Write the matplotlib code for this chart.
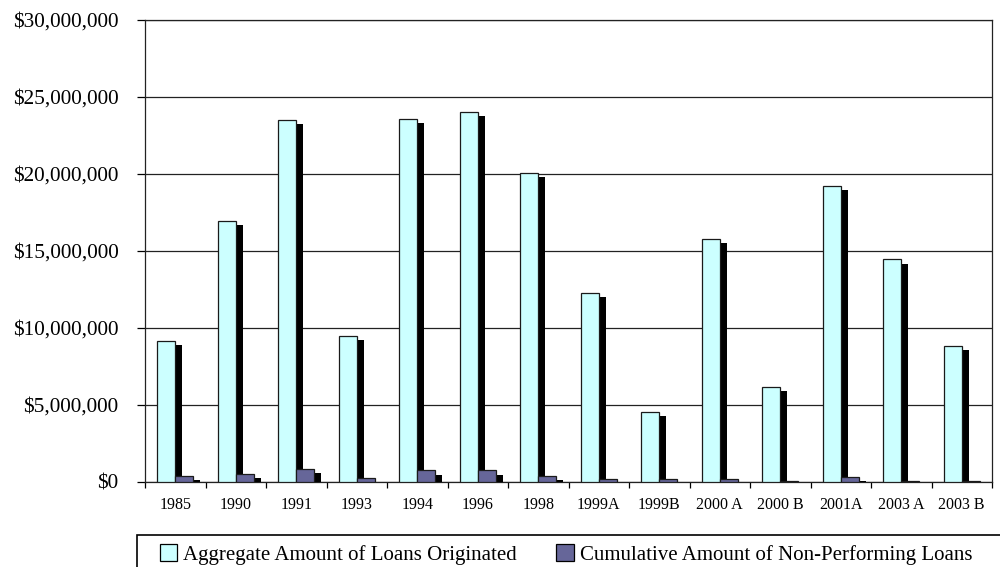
import matplotlib
matplotlib.use("Agg")
import matplotlib.pyplot as plt
import matplotlib.patheffects as pe
from matplotlib.patches import Rectangle
from matplotlib.ticker import FuncFormatter, FixedLocator
import numpy as np

categories = ["1985", "1990", "1991", "1993", "1994", "1996", "1998",
              "1999A", "1999B", "2000 A", "2000 B", "2001A", "2003 A", "2003 B"]
aggregate = [9.16e6, 16.95e6, 23.5e6, 9.5e6, 23.6e6, 24.05e6, 20.05e6,
             12.25e6, 4.57e6, 15.8e6, 6.19e6, 19.25e6, 14.45e6, 8.83e6]
nonperforming = [0.40e6, 0.50e6, 0.87e6, 0.28e6, 0.75e6, 0.75e6, 0.40e6,
                 0.20e6, 0.20e6, 0.20e6, 0.08e6, 0.33e6, 0.08e6, 0.08e6]
series_labels = ["Aggregate Amount of Loans Originated",
                 "Cumulative Amount of Non-Performing Loans"]

plt.rcParams['font.family'] = ['Liberation Serif', 'DejaVu Serif']

fig = plt.figure(figsize=(10, 5.67), dpi=100)
ax = fig.add_axes([0.145, 0.150, 0.847, 0.8147])

x = np.arange(len(categories))
w = 0.3
shadow = [pe.SimplePatchShadow(offset=(5, -3), shadow_rgbFace='black', alpha=1.0), pe.Normal()]

b1 = ax.bar(x - w / 2, aggregate, width=w, color='#CCFFFF', edgecolor='#1a1a1a',
            linewidth=0.9, label=series_labels[0], zorder=3)
for p in b1:
    p.set_path_effects(shadow)
b2 = ax.bar(x + w / 2, nonperforming, width=w, color='#666699', edgecolor='#1a1a1a',
            linewidth=0.9, label=series_labels[1], zorder=4)
for p in b2:
    p.set_path_effects(shadow)

ax.set_xlim(-0.5, len(categories) - 0.5)
ax.set_ylim(0, 30e6)
ax.set_yticks(np.arange(0, 30e6 + 1, 5e6))
ax.yaxis.set_major_formatter(FuncFormatter(lambda v, p: "${:,.0f}".format(v)))
ax.yaxis.grid(True, color='#222222', linewidth=0.9)
ax.set_axisbelow(True)

ax.set_xticks(x)
ax.set_xticklabels(categories)
ax.xaxis.set_minor_locator(FixedLocator(np.arange(-0.5, len(categories), 1.0)))
ax.tick_params(axis='x', which='major', length=0, pad=11, labelsize=11.5)
ax.tick_params(axis='x', which='minor', length=4, width=0.9, direction='out')
ax.tick_params(axis='y', which='major', length=6, width=0.9, pad=13, labelsize=15.3)

for s in ax.spines.values():
    s.set_color('#222222')
    s.set_linewidth(0.9)

# legend
leg = fig.legend(handles=[b1, b2], labels=series_labels, loc='center left',
                 bbox_to_anchor=(0.160, 0.022), ncol=2, frameon=False,
                 fontsize=15, handlelength=0.82, handleheight=0.82,
                 handletextpad=0.29, columnspacing=1.9, borderaxespad=0,
                 borderpad=0)
for h in leg.legend_handles:
    h.set_path_effects([])
    h.set_edgecolor('black')
    h.set_linewidth(0.9)
fig.patches.append(Rectangle((0.137, -0.1), 0.9, 0.1 + (1 - 535 / 567),
                             transform=fig.transFigure, fill=False,
                             edgecolor='black', linewidth=1.2))

fig.savefig("out.png", dpi=100)
